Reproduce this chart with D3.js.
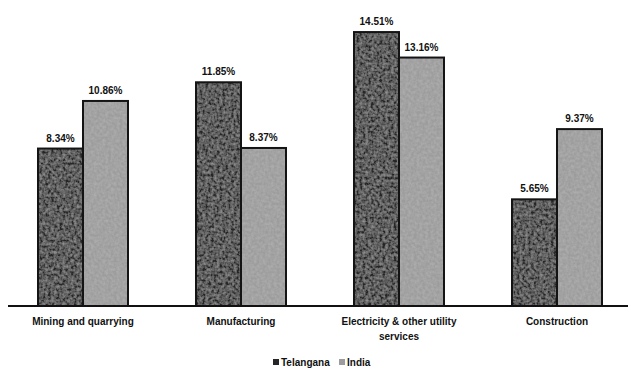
<!DOCTYPE html>
<html>
<head>
<meta charset="utf-8">
<script src="https://cdn.jsdelivr.net/npm/d3@7"></script>
<style>
  body { margin: 0; background: #fff; }
  svg { display: block; }
  text { font-family: "Liberation Sans", Arial, sans-serif; font-weight: bold; fill: #111; }
</style>
</head>
<body>
<script>
// chart data
var categories = ["Mining and quarrying", "Manufacturing", "Electricity & other utility services", "Construction"];
var series = ["Telangana", "India"];
var telangana = [8.34, 11.85, 14.51, 5.65];
var india = [10.86, 8.37, 13.16, 9.37];
var telanganaLabels = ["8.34%", "11.85%", "14.51%", "5.65%"];
var indiaLabels = ["10.86%", "8.37%", "13.16%", "9.37%"];

var width = 631, height = 372;
var baseY = 306;
var barW = 45;

var svg = d3.select("body").append("svg")
    .attr("width", width)
    .attr("height", height);

// grainy texture for the bars
var defs = svg.append("defs");
var f = defs.append("filter").attr("id", "grain")
    .attr("x", 0).attr("y", 0).attr("width", 1).attr("height", 1);
f.append("feTurbulence").attr("type", "fractalNoise")
    .attr("baseFrequency", 0.35).attr("numOctaves", 2).attr("seed", 3).attr("result", "noise");
f.append("feColorMatrix").attr("in", "noise").attr("type", "matrix")
    .attr("values", "0 0 0 0 0.5  0 0 0 0 0.5  0 0 0 0 0.5  0.9 0 0 0 -0.25")
    .attr("result", "spots");
f.append("feComposite").attr("in", "spots").attr("in2", "SourceGraphic").attr("operator", "atop");

var x = d3.scalePoint()
    .domain(categories)
    .range([4, 636])
    .padding(0.5);

var y = d3.scaleLinear()
    .domain([0, 10])
    .range([baseY, baseY - 188.8]);

var data = categories.map(function(c, i) {
    return [
        {cat: c, s: 0, v: telangana[i], label: telanganaLabels[i]},
        {cat: c, s: 1, v: india[i], label: indiaLabels[i]}
    ];
}).flat();

var colors = ["#262626", "#9c9c9c"];

var barX = function(d) { return x(d.cat) - barW + d.s * barW; };

var bars = svg.append("g").selectAll("rect").data(data);
bars.enter().append("rect")
    .attr("x", barX)
    .attr("y", function(d) { return y(d.v); })
    .attr("width", barW)
    .attr("height", function(d) { return baseY - y(d.v); })
    .attr("fill", function(d) { return colors[d.s]; })
    .attr("filter", "url(#grain)");

// dark outlines drawn on top of the textured fill
svg.append("g").selectAll("rect").data(data).enter()
    .append("rect")
    .attr("x", barX)
    .attr("y", function(d) { return y(d.v); })
    .attr("width", barW)
    .attr("height", function(d) { return baseY - y(d.v); })
    .attr("fill", "none")
    .attr("stroke", "#141414")
    .attr("stroke-width", 2);

svg.append("g").selectAll("text").data(data).enter()
    .append("text")
    .attr("x", function(d) { return x(d.cat) - barW / 2 + d.s * barW; })
    .attr("y", function(d) { return y(d.v) - 7; })
    .attr("text-anchor", "middle")
    .attr("font-size", "10px")
    .text(function(d) { return d.label; });

// baseline
svg.append("line")
    .attr("x1", 8).attr("x2", 628)
    .attr("y1", baseY).attr("y2", baseY)
    .attr("stroke", "#111")
    .attr("stroke-width", 2);

// category labels, wrap the long one
var catLines = {
    "Electricity & other utility services": ["Electricity & other utility", "services"]
};
var catG = svg.append("g").selectAll("text").data(categories).enter()
    .append("text")
    .attr("text-anchor", "middle")
    .attr("font-size", "10px")
    .attr("y", 325);
catG.selectAll("tspan")
    .data(function(d) { return catLines[d] || [d]; })
    .enter().append("tspan")
    .attr("x", function() { return x(d3.select(this.parentNode).datum()); })
    .attr("dy", function(d, i) { return i ? 15 : 0; })
    .text(function(d) { return d; });

// legend
var legend = svg.append("g").attr("transform", "translate(273, 366)");
var lx = [0, 66];
series.forEach(function(s, i) {
    legend.append("rect")
        .attr("x", lx[i]).attr("y", -7)
        .attr("width", 6).attr("height", 6)
        .attr("fill", colors[i]);
    legend.append("text")
        .attr("x", lx[i] + 8).attr("y", 0)
        .attr("font-size", "10px")
        .text(s);
});
</script>
</body>
</html>
